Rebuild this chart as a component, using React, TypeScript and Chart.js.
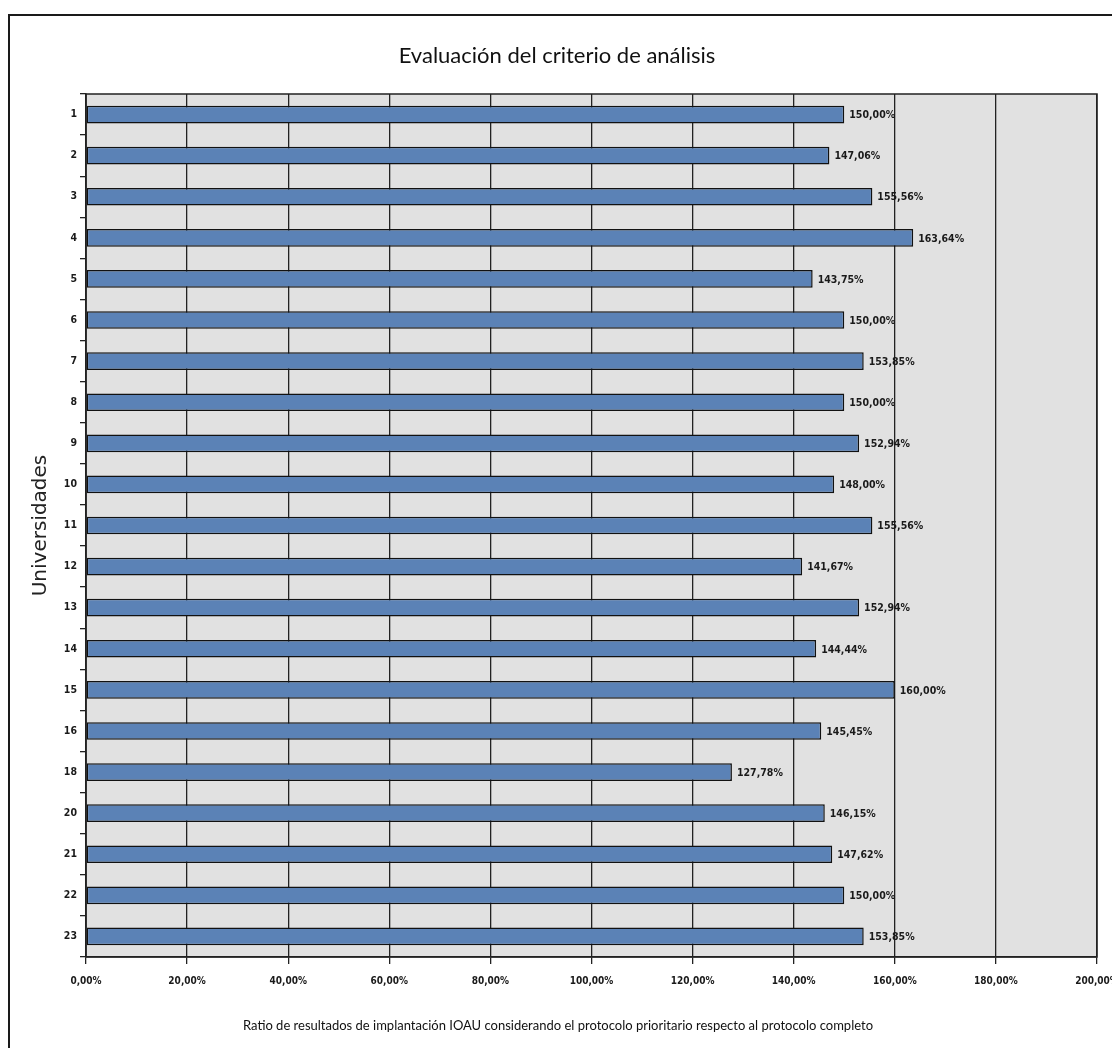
import React, { useEffect, useRef } from "react";
import { Chart, registerables } from "chart.js";

Chart.register(...registerables);

const categories = ["1", "2", "3", "4", "5", "6", "7", "8", "9", "10", "11", "12", "13", "14", "15", "16", "18", "20", "21", "22", "23"];
const ratioValues = [150.0, 147.06, 155.56, 163.64, 143.75, 150.0, 153.85, 150.0, 152.94, 148.0, 155.56, 141.67, 152.94, 144.44, 160.0, 145.45, 127.78, 146.15, 147.62, 150.0, 153.85];
const xTickMin = 0;
const xTickMax = 200;
const xTickStep = 20;
const chartTitle = "Evaluación del criterio de análisis";
const yAxisTitle = "Universidades";
const xAxisTitle = "Ratio de resultados de implantación IOAU considerando el protocolo prioritario respecto al protocolo completo";

const W = 1112;
const H = 1048;
const NARROW = "'Liberation Sans Narrow', 'DejaVu Sans Condensed', 'Arial Narrow', sans-serif";
const CAL = "Lato, 'Open Sans', sans-serif";

const fmt = (v: number) => v.toFixed(2).replace(".", ",") + "%";

const framePlugin = {
  id: "frame",
  beforeDraw(chart: any) {
    const { ctx, chartArea } = chart;
    ctx.save();
    ctx.fillStyle = "#ffffff";
    ctx.fillRect(0, 0, chart.width, chart.height);
    ctx.fillStyle = "#e1e1e1";
    ctx.fillRect(chartArea.left, chartArea.top, chartArea.right - chartArea.left, chartArea.bottom - chartArea.top);
    ctx.strokeStyle = "#1a1a1a";
    ctx.lineWidth = 2;
    ctx.beginPath();
    ctx.moveTo(9, H + 10);
    ctx.lineTo(9, 15);
    ctx.lineTo(W + 10, 15);
    ctx.stroke();
    ctx.restore();
  },
  afterDatasetsDraw(chart: any) {
    const { ctx, chartArea } = chart;
    ctx.save();
    ctx.strokeStyle = "#222222";
    ctx.lineWidth = 1.5;
    ctx.strokeRect(chartArea.left, chartArea.top, chartArea.right - chartArea.left, chartArea.bottom - chartArea.top);
    const meta = chart.getDatasetMeta(0);
    ctx.font = "bold 10.5px " + NARROW;
    ctx.fillStyle = "#1a1a1a";
    ctx.textAlign = "left";
    ctx.textBaseline = "middle";
    meta.data.forEach((bar: any, i: number) => {
      const v = chart.data.datasets[0].data[i];
      ctx.fillText(fmt(v), bar.x + 5, bar.y + 1);
    });
    ctx.restore();
  },
  afterDraw(chart: any) {
    const { ctx } = chart;
    ctx.save();
    ctx.fillStyle = "#111111";
    ctx.textAlign = "center";
    ctx.textBaseline = "middle";
    ctx.font = "22px " + CAL;
    ctx.fillText(chartTitle, 557, 56);
    ctx.font = "13px " + CAL;
    ctx.fillText(xAxisTitle, 558, 1026);
    ctx.restore();
  },
};

export default function App() {
  const ref = useRef<HTMLCanvasElement | null>(null);
  useEffect(() => {
    if (!ref.current) return;
    const chart = new Chart(ref.current, {
      type: "bar",
      data: {
        labels: categories,
        datasets: [
          {
            data: ratioValues,
            backgroundColor: "#5b82b6",
            borderColor: "#111111",
            borderWidth: 1.5,
            borderSkipped: false,
            barPercentage: 0.43,
            categoryPercentage: 1,
          },
        ],
      },
      options: {
        indexAxis: "y",
        responsive: false,
        animation: false,
        devicePixelRatio: 1,
        layout: { padding: { left: 0, right: W - 1097, top: 94, bottom: 0 } },
        plugins: {
          legend: { display: false },
          tooltip: { enabled: false },
          title: { display: false, text: chartTitle },
        },
        scales: {
          x: {
            type: "linear",
            min: xTickMin,
            max: xTickMax,
            ticks: {
              stepSize: xTickStep,
              color: "#1a1a1a",
              font: { family: NARROW, size: 10, weight: "bold" },
              padding: 11,
              maxRotation: 0,
              callback: (v: any) => fmt(Number(v)),
            },
            grid: {
              color: "#222222",
              lineWidth: 1.3,
              drawTicks: true,
              tickLength: 7,
              tickColor: "#222222",
            },
            border: { display: true, color: "#222222", width: 1.5 },
            title: { display: false, text: xAxisTitle },
            afterFit: (scale: any) => {
              scale.height = H - 957;
              scale.paddingRight = 0;
              scale.paddingLeft = 0;
            },
          },
          y: {
            type: "category",
            ticks: {
              color: "#1a1a1a",
              font: { family: NARROW, size: 10.5, weight: "bold" },
              padding: 3,
            },
            grid: {
              drawOnChartArea: false,
              drawTicks: true,
              tickLength: 6,
              tickColor: "#222222",
              lineWidth: 1.3,
              offset: true,
            },
            border: { display: true, color: "#222222", width: 1.5 },
            title: {
              display: true,
              text: yAxisTitle,
              color: "#222222",
              font: { family: "'DejaVu Sans', sans-serif", size: 20, weight: "normal" },
              padding: { top: 29, bottom: 0 },
            },
            afterFit: (scale: any) => {
              scale.width = 86;
            },
          },
        },
      },
      plugins: [framePlugin],
    } as any);
    return () => chart.destroy();
  }, []);
  return (
    <div style={{ position: "fixed", left: 0, top: 0, width: W, height: H, overflow: "hidden", background: "#fff" }}>
      <canvas ref={ref} width={W} height={H} style={{ display: "block", width: W, height: H }} />
    </div>
  );
}
